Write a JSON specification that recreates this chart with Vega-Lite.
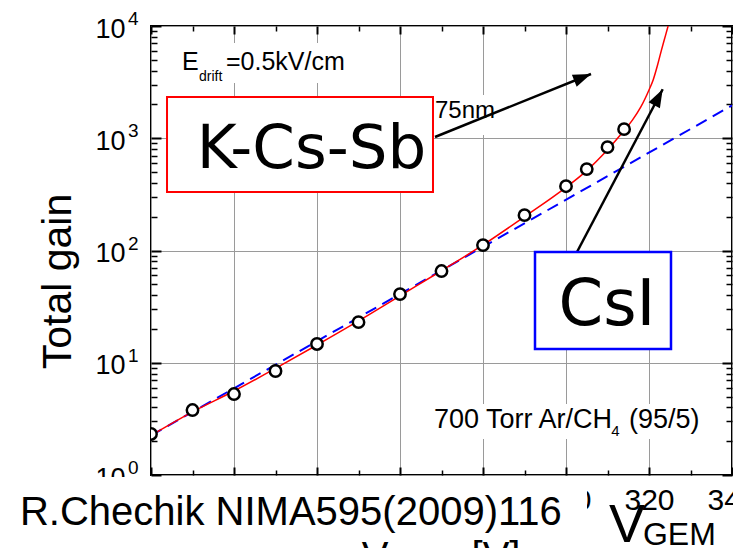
{
  "$schema": "https://vega.github.io/schema/vega-lite/v6.json",
  "width": 581,
  "height": 449,
  "autosize": {"type": "none"},
  "padding": {"left": 151, "top": 26, "right": 1, "bottom": 73},
  "background": "white",
  "config": {
    "view": {"stroke": "black", "strokeWidth": 2},
    "axis": {
      "labelFont": "Liberation Sans",
      "titleFont": "Liberation Sans",
      "labelColor": "black",
      "titleColor": "black",
      "tickColor": "black",
      "gridColor": "#9a9a9a",
      "gridWidth": 1,
      "domain": false,
      "titleFontWeight": "normal"
    },
    "text": {"font": "Liberation Sans", "color": "black"}
  },
  "datasets": {
    "pts": [
      {"V": 200, "G": 2.32}, {"V": 210, "G": 3.79}, {"V": 220, "G": 5.26},
      {"V": 230, "G": 8.44}, {"V": 240, "G": 14.7}, {"V": 250, "G": 23.0},
      {"V": 260, "G": 40.9}, {"V": 270, "G": 65.6}, {"V": 280, "G": 111.7},
      {"V": 290, "G": 206.6}, {"V": 300, "G": 374}, {"V": 305, "G": 531},
      {"V": 310, "G": 833}, {"V": 314, "G": 1205}
    ],
    "fit": [
      {"V": 200, "G": 2.25}, {"V": 210, "G": 3.65}, {"V": 220, "G": 5.6},
      {"V": 230, "G": 8.9}, {"V": 240, "G": 14.4}, {"V": 250, "G": 23.6},
      {"V": 260, "G": 39.5}, {"V": 270, "G": 66}, {"V": 280, "G": 112},
      {"V": 290, "G": 200}, {"V": 300, "G": 365}, {"V": 305, "G": 515},
      {"V": 310, "G": 790}, {"V": 314, "G": 1170}, {"V": 316, "G": 1450},
      {"V": 318, "G": 1890}, {"V": 320, "G": 2690}, {"V": 321, "G": 3300},
      {"V": 322, "G": 4400}, {"V": 323, "G": 6100}, {"V": 324, "G": 8300},
      {"V": 324.6, "G": 10000}
    ],
    "exp": [{"V": 200, "G": 2.25}, {"V": 340, "G": 1960}],
    "expo": [
      {"V": 194.46, "G": 1, "t": "0"}, {"V": 194.46, "G": 10, "t": "1"},
      {"V": 194.46, "G": 100, "t": "2"}, {"V": 194.46, "G": 1000, "t": "3"},
      {"V": 194.46, "G": 10000, "t": "4"}
    ]
  },
  "layer": [
    {
      "data": {"name": "exp"},
      "mark": {"type": "line", "color": "#0000ff", "strokeWidth": 2, "strokeDash": [12, 7], "clip": true},
      "encoding": {
        "x": {"field": "V", "type": "quantitative",
          "scale": {"domain": [200, 340], "nice": false, "zero": false},
          "axis": {"orient": "top", "values": [200, 220, 240, 260, 280, 300, 320, 340], "tickSize": -8, "tickWidth": 2, "labels": false, "grid": false, "title": null}},
        "y": {"field": "G", "type": "quantitative",
          "scale": {"type": "log", "domain": [1, 10000], "nice": false},
          "axis": {"orient": "right", "values": [1, 10, 100, 1000, 10000], "tickSize": -10, "tickWidth": 2, "labels": false, "grid": false, "title": null}}
      }
    },
    {
      "data": {"name": "fit"},
      "mark": {"type": "line", "color": "#ff0000", "strokeWidth": 1.5, "interpolate": "monotone", "clip": true},
      "encoding": {
        "x": {"field": "V", "type": "quantitative",
          "axis": {"orient": "bottom", "values": [210, 230, 250, 270, 290, 310, 330], "tickSize": -5, "tickWidth": 1.5, "labels": false, "grid": false, "title": null}},
        "y": {"field": "G", "type": "quantitative",
          "axis": {"orient": "left", "values": [2, 3, 4, 5, 6, 7, 8, 9, 20, 30, 40, 50, 60, 70, 80, 90, 200, 300, 400, 500, 600, 700, 800, 900, 2000, 3000, 4000, 5000, 6000, 7000, 8000, 9000], "tickSize": -6, "tickWidth": 1.5, "labels": false, "grid": false, "title": null}}
      }
    },
    {
      "data": {"name": "pts"},
      "mark": {"type": "point", "shape": "circle", "size": 130, "filled": true, "fill": "white", "stroke": "black", "strokeWidth": 2.5, "opacity": 1, "fillOpacity": 1, "clip": true},
      "encoding": {
        "x": {"field": "V", "type": "quantitative",
          "axis": {"orient": "bottom", "values": [200, 220, 240, 260, 280, 300, 320, 340], "tickSize": -8, "tickWidth": 2, "grid": true, "labelFontSize": 30, "labelPadding": 18, "labelFlush": false, "labelOverlap": false, "title": null}},
        "y": {"field": "G", "type": "quantitative",
          "axis": {"orient": "left", "values": [1, 10, 100, 1000, 10000], "tickSize": -10, "tickWidth": 2, "grid": true, "labelFontSize": 27, "labelPadding": 36, "labelOffset": 3, "labelOverlap": false,
            "labelExpr": "'10'",
            "title": "Total gain", "titleFontSize": 41, "titleAngle": 270, "titleAlign": "center", "titleBaseline": "alphabetic", "titleX": -81, "titleY": 255}}
      }
    },
    {
      "data": {"name": "expo"},
      "mark": {"type": "text", "fontSize": 19, "align": "left", "baseline": "alphabetic", "dy": -1},
      "encoding": {
        "x": {"field": "V", "type": "quantitative", "axis": null},
        "y": {"field": "G", "type": "quantitative", "axis": null},
        "text": {"field": "t"}
      }
    },
    {
      "data": {"values": [
        {"V": 206.5, "V2": 249.64, "G": 7058, "G2": 3106},
        {"V": 267.95, "V2": 284.1, "G": 2428, "G2": 1069},
        {"V": 267.23, "V2": 333.73, "G": 4.29, "G2": 2.093}
      ]},
      "mark": {"type": "rect", "fill": "white"},
      "encoding": {
        "x": {"field": "V", "type": "quantitative", "axis": null},
        "x2": {"field": "V2"},
        "y": {"field": "G", "type": "quantitative", "axis": null},
        "y2": {"field": "G2"}
      }
    },
    {
      "data": {"values": [
        {"V": 207.47, "G": 4055, "t": "E"},
        {"V": 218.07, "G": 4055, "t": "=0.5kV/cm"}
      ]},
      "mark": {"type": "text", "fontSize": 25, "align": "left", "baseline": "alphabetic"},
      "encoding": {
        "x": {"field": "V", "type": "quantitative", "axis": null},
        "y": {"field": "G", "type": "quantitative", "axis": null},
        "text": {"field": "t"}
      }
    },
    {
      "data": {"values": [{"V": 268.43, "G": 1514, "t": "75nm"}]},
      "mark": {"type": "text", "fontSize": 24, "align": "left", "baseline": "alphabetic"},
      "encoding": {
        "x": {"field": "V", "type": "quantitative", "axis": null},
        "y": {"field": "G", "type": "quantitative", "axis": null},
        "text": {"field": "t"}
      }
    },
    {
      "data": {"values": [{"V": 211.57, "G": 3236, "t": "drift"}]},
      "mark": {"type": "text", "fontSize": 14, "align": "left", "baseline": "alphabetic"},
      "encoding": {
        "x": {"field": "V", "type": "quantitative", "axis": null},
        "y": {"field": "G", "type": "quantitative", "axis": null},
        "text": {"field": "t"}
      }
    },
    {
      "data": {"values": [
        {"V": 268.19, "G": 2.61, "t": "700 Torr Ar/CH"},
        {"V": 315.2, "G": 2.61, "t": "(95/5)"}
      ]},
      "mark": {"type": "text", "fontSize": 27, "align": "left", "baseline": "alphabetic"},
      "encoding": {
        "x": {"field": "V", "type": "quantitative", "axis": null},
        "y": {"field": "G", "type": "quantitative", "axis": null},
        "text": {"field": "t"}
      }
    },
    {
      "data": {"values": [{"V": 310.9, "G": 2.225, "t": "4"}]},
      "mark": {"type": "text", "fontSize": 15, "align": "left", "baseline": "alphabetic"},
      "encoding": {
        "x": {"field": "V", "type": "quantitative", "axis": null},
        "y": {"field": "G", "type": "quantitative", "axis": null},
        "text": {"field": "t"}
      }
    },
    {
      "data": {"values": [
        {"V": 268.43, "G": 1026, "V2": 306.02, "G2": 3736},
        {"V": 302.65, "G": 97, "V2": 323.3, "G2": 2730}
      ]},
      "mark": {"type": "rule", "color": "black", "strokeWidth": 2.5},
      "encoding": {
        "x": {"field": "V", "type": "quantitative",
          "axis": {"orient": "top", "values": [210, 230, 250, 270, 290, 310, 330], "tickSize": -5, "tickWidth": 1.5, "labels": false, "grid": false, "title": null}},
        "y": {"field": "G", "type": "quantitative",
          "axis": {"orient": "right", "values": [2, 3, 4, 5, 6, 7, 8, 9, 20, 30, 40, 50, 60, 70, 80, 90, 200, 300, 400, 500, 600, 700, 800, 900, 2000, 3000, 4000, 5000, 6000, 7000, 8000, 9000], "tickSize": -6, "tickWidth": 1.5, "labels": false, "grid": false, "title": null}},
        "x2": {"field": "V2"},
        "y2": {"field": "G2"}
      }
    },
    {
      "data": {"values": [{"V": 306.02, "G": 3736}]},
      "mark": {"type": "point", "shape": "M0,0L-0.8,2.25L0.8,2.25Z", "size": 256, "filled": true, "fill": "black", "stroke": null, "opacity": 1, "angle": 68},
      "encoding": {
        "x": {"field": "V", "type": "quantitative", "axis": null},
        "y": {"field": "G", "type": "quantitative", "axis": null}
      }
    },
    {
      "data": {"values": [{"V": 323.3, "G": 2730}]},
      "mark": {"type": "point", "shape": "M0,0L-0.8,2.25L0.8,2.25Z", "size": 256, "filled": true, "fill": "black", "stroke": null, "opacity": 1, "angle": 28},
      "encoding": {
        "x": {"field": "V", "type": "quantitative", "axis": null},
        "y": {"field": "G", "type": "quantitative", "axis": null}
      }
    },
    {
      "data": {"values": [{"V": 203.86, "V2": 267.95, "G": 332, "G2": 2331}]},
      "mark": {"type": "rect", "fill": "white", "stroke": "#ff0000", "strokeWidth": 2},
      "encoding": {
        "x": {"field": "V", "type": "quantitative", "axis": null},
        "x2": {"field": "V2"},
        "y": {"field": "G", "type": "quantitative", "axis": null},
        "y2": {"field": "G2"}
      }
    },
    {
      "data": {"values": [{"V": 292.53, "V2": 325.3, "G": 13.26, "G2": 97}]},
      "mark": {"type": "rect", "fill": "white", "stroke": "#0000ff", "strokeWidth": 2.5},
      "encoding": {
        "x": {"field": "V", "type": "quantitative", "axis": null},
        "x2": {"field": "V2"},
        "y": {"field": "G", "type": "quantitative", "axis": null},
        "y2": {"field": "G2"}
      }
    },
    {
      "data": {"values": [{"V": 238.67, "G": 543, "t": "K-Cs-Sb"}]},
      "mark": {"type": "text", "font": "DejaVu Sans", "fontSize": 61, "align": "center", "baseline": "alphabetic"},
      "encoding": {
        "x": {"field": "V", "type": "quantitative", "axis": null},
        "y": {"field": "G", "type": "quantitative", "axis": null},
        "text": {"field": "t"}
      }
    },
    {
      "data": {"values": [{"V": 309.88, "G": 21.7, "t": "CsI"}]},
      "mark": {"type": "text", "font": "DejaVu Sans", "fontSize": 64, "align": "center", "baseline": "alphabetic"},
      "encoding": {
        "x": {"field": "V", "type": "quantitative", "axis": null},
        "y": {"field": "G", "type": "quantitative", "axis": null},
        "text": {"field": "t"}
      }
    },
    {
      "data": {"values": [{"V": 161, "V2": 305.06, "G": 0.1747, "G2": 0.96}]},
      "mark": {"type": "rect", "fill": "white"},
      "encoding": {
        "x": {"field": "V", "type": "quantitative", "axis": null},
        "x2": {"field": "V2"},
        "y": {"field": "G", "type": "quantitative", "axis": null},
        "y2": {"field": "G2"}
      }
    },
    {
      "data": {"values": [{"V": 168.43, "G": 0.3585, "t": "R.Chechik NIMA595(2009)116"}]},
      "mark": {"type": "text", "fontSize": 40, "align": "left", "baseline": "alphabetic"},
      "encoding": {
        "x": {"field": "V", "type": "quantitative", "axis": null},
        "y": {"field": "G", "type": "quantitative", "axis": null},
        "text": {"field": "t"}
      }
    },
    {
      "data": {"values": [{"V": 314.7, "G": 0.253, "t": "V"}]},
      "mark": {"type": "text", "fontSize": 54, "align": "center", "baseline": "alphabetic"},
      "encoding": {
        "x": {"field": "V", "type": "quantitative", "axis": null},
        "y": {"field": "G", "type": "quantitative", "axis": null},
        "text": {"field": "t"}
      }
    },
    {
      "data": {"values": [{"V": 318.55, "G": 0.238, "t": "GEM"}]},
      "mark": {"type": "text", "fontSize": 32, "align": "left", "baseline": "alphabetic"},
      "encoding": {
        "x": {"field": "V", "type": "quantitative", "axis": null},
        "y": {"field": "G", "type": "quantitative", "axis": null},
        "text": {"field": "t"}
      }
    },
    {
      "data": {"values": [
        {"V": 253.98, "G": 0.1425, "t": "V"},
        {"V": 283.13, "G": 0.1425, "t": "[V]"}
      ]},
      "mark": {"type": "text", "fontSize": 40, "align": "center", "baseline": "alphabetic"},
      "encoding": {
        "x": {"field": "V", "type": "quantitative", "axis": null},
        "y": {"field": "G", "type": "quantitative", "axis": null},
        "text": {"field": "t"}
      }
    }
  ],
  "resolve": {"axis": {"x": "independent", "y": "independent"}}
}
